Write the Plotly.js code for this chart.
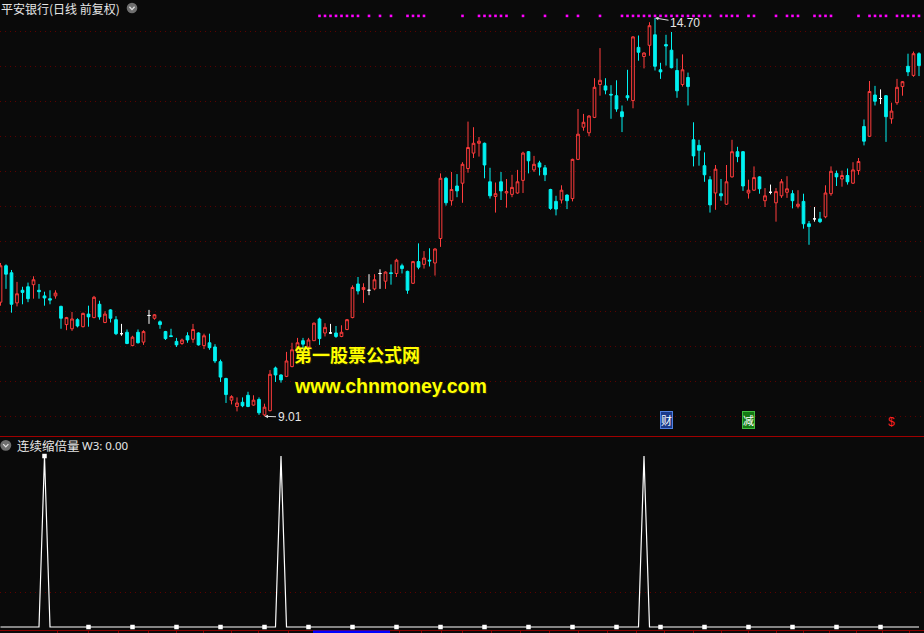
<!DOCTYPE html>
<html><head><meta charset="utf-8">
<script src="https://cdn.plot.ly/plotly-3.0.1.min.js"></script>
<style>html,body{margin:0;padding:0;background:#0a0a0a;overflow:hidden}#chart{width:924px;height:633px}</style>
</head><body><div id="chart"></div>
<script>
const titleText = '平安银行(日线 前复权)';
const indName = '连续缩倍量';
const indValue = 'W3: 0.00';
const lowLabel = '9.01';
const highLabel = '14.70';

const openP = [
10.64,11.16,11.06,10.63,10.81,10.86,10.89,10.81,10.73,10.69,
10.73,10.58,10.32,10.26,10.39,10.29,10.47,10.42,10.61,10.35,
10.53,10.39,10.19,10.21,10.02,10.21,10.07,10.45,10.41,10.36,
10.22,10.16,10.08,10.05,10.16,10.11,10.20,10.02,10.06,10.00,
9.79,9.55,9.24,9.15,9.21,9.31,9.17,9.25,9.03,9.09,
9.70,9.60,9.58,9.72,9.93,10.09,10.00,10.09,10.40,10.20,
10.20,10.20,10.15,10.25,10.42,10.90,10.82,10.81,10.83,11.05,
10.94,11.06,11.05,11.16,11.08,10.91,11.22,11.18,11.24,11.20,
11.55,12.41,12.09,12.30,12.34,12.55,12.77,12.91,12.91,12.36,
12.15,12.36,12.20,12.18,12.20,12.38,12.79,12.53,12.63,12.56,
12.25,12.08,12.10,12.17,12.12,12.68,13.14,13.06,13.28,13.75,
13.73,13.61,13.59,13.36,13.59,13.52,14.28,14.15,14.31,14.46,
13.96,14.32,14.24,13.95,13.75,13.85,12.96,12.88,12.59,12.39,
12.20,12.19,12.04,12.43,12.79,12.79,12.20,12.24,12.43,12.09,
12.21,12.06,12.16,12.21,12.19,12.01,12.08,11.76,11.83,11.83,
11.86,12.19,12.48,12.40,12.45,12.34,12.52,13.15,13.01,13.60,
13.55,13.59,13.26,13.49,13.72,14.01,13.88,14.19];
const highP = [
11.20,11.18,11.10,10.93,10.86,10.92,11.01,10.90,10.79,10.81,
10.81,10.59,10.43,10.50,10.41,10.49,10.59,10.73,10.66,10.51,
10.54,10.44,10.33,10.25,10.16,10.25,10.24,10.53,10.47,10.38,
10.23,10.26,10.13,10.12,10.21,10.33,10.21,10.19,10.19,10.04,
9.82,9.56,9.31,9.28,9.28,9.36,9.31,9.28,9.19,9.67,
9.72,9.61,9.93,10.06,10.13,10.13,10.13,10.35,10.42,10.34,
10.33,10.30,10.31,10.40,10.88,11.00,10.91,11.04,11.04,11.11,
11.08,11.18,11.26,11.19,11.09,11.23,11.48,11.37,11.41,11.41,
12.48,12.43,12.50,12.47,12.64,13.22,13.14,13.00,12.92,12.56,
12.35,12.50,12.40,12.46,12.53,12.79,12.80,12.73,12.66,12.60,
12.26,12.16,12.31,12.18,12.69,13.40,13.33,13.31,13.84,14.27,
13.84,13.74,13.81,13.45,13.96,14.44,14.45,14.21,14.64,14.70,
14.06,14.46,14.50,14.12,14.18,13.92,13.21,12.96,12.78,12.44,
12.60,12.40,12.60,12.96,12.86,12.80,12.39,12.58,12.44,12.27,
12.32,12.27,12.40,12.44,12.24,12.24,12.19,11.80,12.00,11.93,
12.31,12.58,12.52,12.52,12.55,12.64,12.70,13.25,13.80,13.73,
13.68,13.60,13.49,13.83,13.80,14.19,14.22,14.21];
const lowP = [
10.59,10.83,10.49,10.58,10.61,10.64,10.69,10.69,10.59,10.61,
10.69,10.26,10.24,10.23,10.28,10.28,10.29,10.41,10.39,10.34,
10.35,10.17,10.16,10.04,10.01,10.05,10.03,10.33,10.39,10.26,
10.10,10.14,10.00,10.03,10.06,10.06,10.02,9.97,9.96,9.77,
9.50,9.20,9.18,9.08,9.14,9.14,9.16,9.03,9.01,9.08,
9.50,9.49,9.57,9.71,9.87,9.96,9.99,10.09,10.03,10.15,
10.19,10.13,10.14,10.24,10.41,10.75,10.63,10.74,10.81,10.83,
10.83,10.89,11.00,11.05,10.76,10.90,11.11,11.12,11.15,11.02,
11.43,12.02,12.02,12.14,12.06,12.49,12.70,12.72,12.41,12.12,
11.92,12.10,11.99,12.14,12.19,12.20,12.48,12.50,12.45,12.37,
11.96,11.88,12.05,11.97,12.08,12.67,13.09,13.01,13.27,13.59,
13.61,13.26,13.36,13.07,13.52,13.41,14.09,13.98,14.16,13.95,
13.83,14.02,13.98,13.56,13.72,13.45,12.58,12.59,12.36,11.92,
11.96,12.09,12.03,12.42,12.64,12.23,12.12,12.23,12.19,12.00,
12.18,11.79,12.13,12.13,11.98,11.98,11.69,11.46,11.79,11.77,
11.84,12.16,12.30,12.29,12.32,12.33,12.46,12.88,13.00,13.45,
13.47,12.93,13.19,13.46,13.59,13.87,13.86,13.87];
const closeP = [
11.16,11.04,10.61,10.76,10.78,10.69,10.96,10.79,10.70,10.67,
10.77,10.41,10.42,10.40,10.30,10.48,10.43,10.71,10.43,10.47,
10.41,10.19,10.19,10.05,10.14,10.06,10.22,10.45,10.46,10.32,
10.12,10.15,10.03,10.10,10.10,10.25,10.03,10.16,9.99,9.80,
9.57,9.32,9.29,9.20,9.16,9.15,9.24,9.06,9.14,9.61,
9.60,9.53,9.80,9.96,10.06,10.04,10.10,10.34,10.12,10.28,
10.20,10.15,10.21,10.39,10.85,10.80,10.85,10.81,10.96,11.05,
11.07,11.05,11.24,11.12,10.81,11.22,11.14,11.27,11.23,11.40,
12.41,12.06,12.25,12.23,12.61,12.85,12.91,12.94,12.60,12.16,
12.19,12.23,12.22,12.28,12.36,12.77,12.66,12.61,12.57,12.46,
11.98,11.97,12.24,12.09,12.68,13.04,13.21,13.30,13.71,13.81,
13.67,13.60,13.40,13.29,13.56,14.43,14.21,14.20,14.59,14.01,
13.93,14.30,13.99,13.66,13.96,13.72,12.73,12.81,12.46,12.03,
12.54,12.16,12.36,12.79,12.72,12.30,12.24,12.42,12.26,12.16,
12.21,12.22,12.36,12.26,12.09,12.04,11.76,11.72,11.83,11.79,
12.20,12.51,12.43,12.45,12.36,12.53,12.65,12.94,13.65,13.51,
13.55,13.29,13.37,13.71,13.79,13.93,14.19,14.02];
const w3 = [
0,0,0,0,0,0,0,0,1,0, 0,0,0,0,0,0,0,0,0,0,
0,0,0,0,0,0,0,0,0,0, 0,0,0,0,0,0,0,0,0,0,
0,0,0,0,0,0,0,0,0,0, 0,1,0,0,0,0,0,0,0,0,
0,0,0,0,0,0,0,0,0,0, 0,0,0,0,0,0,0,0,0,0,
0,0,0,0,0,0,0,0,0,0, 0,0,0,0,0,0,0,0,0,0,
0,0,0,0,0,0,0,0,0,0, 0,0,0,0,0,0,0,1,0,0,
0,0,0,0,0,0,0,0,0,0, 0,0,0,0,0,0,0,0,0,0,
0,0,0,0,0,0,0,0,0,0, 0,0,0,0,0,0,0,0,0,0,
0,0,0,0,0,0,0,0];
const markIdx = [8,16,24,32,40,48,56,64,72,80,88,96,104,112,120,128,136,144,152,160];
const signalIdx = [58,59,60,61,62,63,64,65,67,69,71,74,75,76,77,84,87,88,89,90,91,92,95,99,103,105,109,
113,114,115,116,117,118,119,120,121,122,123,124,125,126,127,128,129,131,132,133,134,136,137,141,143,144,145,
148,149,150,151,156,158,159,160,161,163,164,165,166,167];
const weekTicks = [10.4,15.96,21.4,26.9,31.96,36.87,41.96,46.87,52.3,57.4,62.45,67.5,72.6,76.6,80.2,83.96,89.2,94.5,99.8,105.1,110.3,115.6,120.7,125.96,131.1,136,141,145.96,150.7,155.7,160.4,165.2];
const events = [{i:121, t:'财'},{i:136, t:'减'},{i:162, t:'$'}];

const BG = '#0a0a0a', RED = '#ff3c3c', CYAN = '#00f2f2', GRID = '#5e0000';
const idx = openP.map((_, i) => i);
const norm = idx.filter(i => openP[i] !== closeP[i]);
const doji = idx.filter(i => openP[i] === closeP[i]);
const pick = (arr, ids) => ids.map(i => arr[i]);

const PX = x => x / 924;
const PY = y => (630 - y) / 630;

const traces = [
  {type:'candlestick', x: norm, open: pick(openP,norm), high: pick(highP,norm), low: pick(lowP,norm), close: pick(closeP,norm),
   increasing:{line:{color:RED,width:1}, fillcolor:BG}, decreasing:{line:{color:CYAN,width:1}, fillcolor:CYAN},
   whiskerwidth:0, xaxis:'x', yaxis:'y', hoverinfo:'none', showlegend:false},
  {type:'candlestick', x: doji, open: pick(openP,doji), high: pick(highP,doji), low: pick(lowP,doji), close: pick(closeP,doji),
   increasing:{line:{color:'#ffffff',width:1}, fillcolor:'#ffffff'}, decreasing:{line:{color:'#ffffff',width:1}, fillcolor:'#ffffff'},
   whiskerwidth:0, xaxis:'x', yaxis:'y', hoverinfo:'none', showlegend:false},
  {type:'scatter', mode:'markers', x: signalIdx, y: signalIdx.map(() => 14.73), xaxis:'x', yaxis:'y',
   marker:{symbol:'square', size:2.6, color:'#ff00ff'}, hoverinfo:'none', showlegend:false},
  {type:'scatter', mode:'lines', x: idx, y: w3, xaxis:'x', yaxis:'y2', line:{color:'#ffffff', width:1.2},
   hoverinfo:'none', showlegend:false},
  {type:'scatter', mode:'markers', x: markIdx, y: markIdx.map(i => w3[i]), xaxis:'x', yaxis:'y2',
   marker:{symbol:'square', size:4.5, color:'#ffffff'}, hoverinfo:'none', showlegend:false}
];

const cjk = 'Noto Sans CJK SC, sans-serif';
const annotations = [
  {xref:'paper', yref:'paper', x:PX(0), y:PY(-1), xanchor:'left', yanchor:'top', showarrow:false, borderpad:0,
   text:titleText, font:{family:cjk, size:12, color:'#e6e6e6'}},
  {xref:'paper', yref:'paper', x:PX(15), y:PY(445.5), xanchor:'left', yanchor:'middle', showarrow:false,
   text:indName, font:{family:cjk, size:12.5, color:'#e6e6e6'}},
  {xref:'paper', yref:'paper', x:PX(80), y:PY(445.5), xanchor:'left', yanchor:'middle', showarrow:false,
   text:indValue, font:{family:'Noto Sans, sans-serif', size:11.5, color:'#e6e6e6'}},
  {xref:'x', yref:'y', x:119, y:14.70, text:highLabel, showarrow:true, arrowhead:2, arrowsize:0.7, arrowwidth:1,
   arrowcolor:'#dddddd', ax:30, ay:5, font:{family:'Liberation Sans, sans-serif', size:12, color:'#e6e6e6'}},
  {xref:'x', yref:'y', x:48, y:9.01, text:lowLabel, showarrow:true, arrowhead:2, arrowsize:0.7, arrowwidth:1,
   arrowcolor:'#dddddd', ax:25, ay:1, font:{family:'Liberation Sans, sans-serif', size:12, color:'#e6e6e6'}},
  {xref:'paper', yref:'paper', x:PX(292), y:PY(354), xanchor:'left', yanchor:'middle', showarrow:false,
   text:'第一股票公式网', font:{family:'Noto Sans CJK SC, sans-serif', size:18, color:'#ffff00', weight:700, shadow:'1px 1px 1px #303000'}},
  {xref:'paper', yref:'paper', x:PX(292), y:PY(386), xanchor:'left', yanchor:'middle', showarrow:false,
   text:'www.chnmoney.com', font:{family:'Liberation Sans, sans-serif', size:19.5, color:'#ffff00', weight:700, shadow:'1px 1px 1px #303000'}}
];
events.forEach(e => {
  if (e.t === '$') {
    annotations.push({xref:'x', yref:'paper', x:e.i, y:PY(431), showarrow:false, text:e.t,
      font:{family:'Liberation Sans, sans-serif', size:12, color:'#ff2020'}});
  } else {
    annotations.push({xref:'x', yref:'paper', x:e.i, y:PY(428.5), showarrow:false, text:e.t,
      bgcolor: e.t === '财' ? '#1a3a8a' : '#147a14', bordercolor: e.t === '财' ? '#5080e0' : '#40c040',
      borderwidth:1, borderpad:0, font:{family:cjk, size:11, color:'#ffffff'}});
  }
});

function circlePath(cx, cy) {
  return 'M ' + PX(cx-2.6) + ' ' + PY(cy-1.2) + ' L ' + PX(cx) + ' ' + PY(cy+1.6) + ' L ' + PX(cx+2.6) + ' ' + PY(cy-1.2);
}
const shapes = [
  {type:'line', xref:'paper', yref:'paper', x0:0, x1:1, y0:PY(436.5), y1:PY(436.5), line:{color:'#a00000', width:1}},
  {type:'rect', xref:'paper', yref:'paper', x0:PX(313), x1:PX(390), y0:PY(630.5), y1:PY(633), fillcolor:'#0000ff', line:{width:0}},
  {type:'circle', xref:'paper', yref:'paper', x0:PX(126.7), x1:PX(137.3), y0:PY(2.7), y1:PY(13.3), fillcolor:'#6e6e6e', line:{width:0}},
  {type:'path', xref:'paper', yref:'paper', path:circlePath(132, 8), line:{color:'#e0e0e0', width:1.3}},
  {type:'circle', xref:'paper', yref:'paper', x0:PX(0.3), x1:PX(11.3), y0:PY(440), y1:PY(450.7), fillcolor:'#6e6e6e', line:{width:0}},
  {type:'path', xref:'paper', yref:'paper', path:circlePath(5.8, 445.3), line:{color:'#e0e0e0', width:1.3}}
];

const layout = {
  width:924, height:633, paper_bgcolor:BG, plot_bgcolor:BG,
  margin:{l:0, r:0, t:0, b:3}, showlegend:false, hovermode:false, dragmode:false,
  xaxis:{range:[-0.091, 167.91], anchor:'y2', rangeslider:{visible:false}, showgrid:false, zeroline:false,
    showline:true, linecolor:'#8b0000', linewidth:1, ticks:'outside', ticklen:3, tickcolor:'#8b0000',
    tickmode:'array', tickvals:weekTicks, showticklabels:false, fixedrange:true},
  yaxis:{domain:[(630-437)/630, 1], range:[8.714, 14.957], showticklabels:false, showgrid:true,
    gridcolor:GRID, griddash:'1px,4px', gridwidth:1, tickmode:'linear', tick0:0, dtick:0.5, zeroline:false, ticks:'', fixedrange:true},
  yaxis2:{domain:[0, (630-438)/630], range:[-0.0175, 1.1053], showticklabels:false, showgrid:true,
    gridcolor:GRID, griddash:'1px,4px', gridwidth:1, tickmode:'array', tickvals:[0.2], zeroline:false, ticks:'', fixedrange:true},
  boxgap:0.3,
  annotations: annotations, shapes: shapes
};
Plotly.newPlot('chart', traces, layout, {displayModeBar:false, staticPlot:true});
</script>
</body></html>
